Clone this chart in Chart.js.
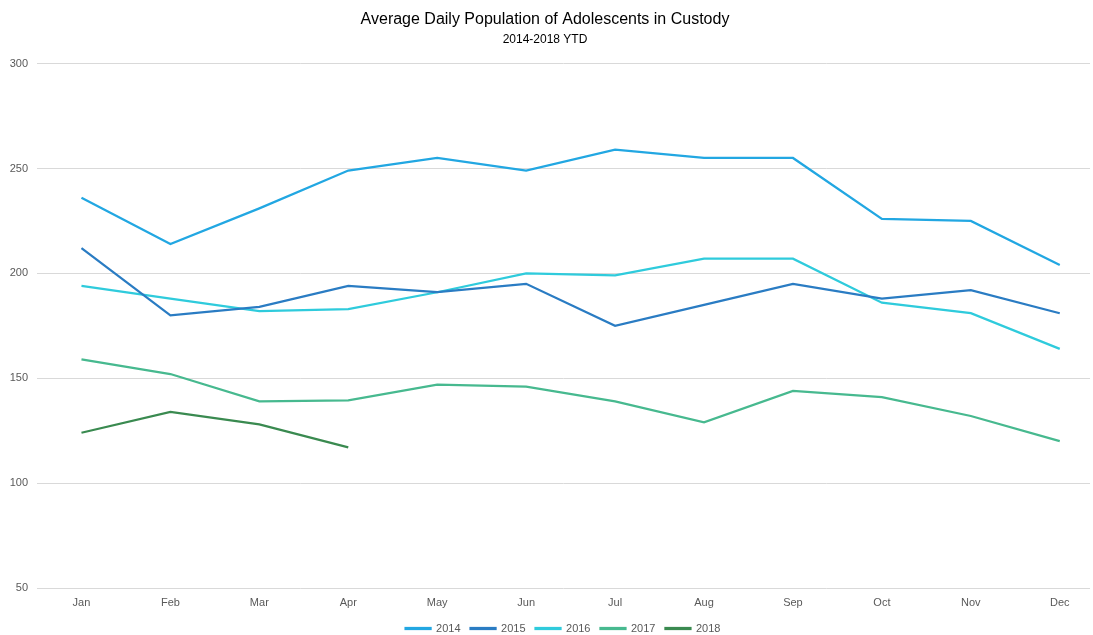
<!DOCTYPE html>
<html>
<head>
<meta charset="utf-8">
<script src="https://cdn.jsdelivr.net/npm/chart.js@4"></script>
<style>
  html, body { margin: 0; padding: 0; background: #fff; }
  #wrap { width: 1093px; height: 635px; }
</style>
</head>
<body>
<div id="wrap"><canvas id="adp-chart" width="1093" height="635"></canvas></div>
<script>
const months = ['Jan', 'Feb', 'Mar', 'Apr', 'May', 'Jun', 'Jul', 'Aug', 'Sep', 'Oct', 'Nov', 'Dec'];

const adp2014 = [236, 214, 231, 249, 255, 249, 259, 255, 255, 226, 225, 204];
const adp2015 = [212, 180, 184, 194, 191, 195, 175, 185, 195, 188, 192, 181];
const adp2016 = [194, 188, 182, 183, 191, 200, 199, 207, 207, 186, 181, 164];
const adp2017 = [159, 152, 139, 139.5, 147, 146, 139, 129, 144, 141, 132, 120];
const adp2018 = [124, 134, 128, 117];

const years = ['2014', '2015', '2016', '2017', '2018'];
const colors = ['#22a7e2', '#2a7cc3', '#2fcbdc', '#47b98f', '#3a8a50'];

// linear x so the first/last months sit where they do in the original
function toPoints(arr) {
    return arr.map((v, i) => ({ x: i, y: v }));
}

const seriesList = [adp2014, adp2015, adp2016, adp2017, adp2018];

// legend box is a bit tall by default, squeeze it so the plot keeps its height
// and nudge it right, it sits centred on the plot area in the original
const legendHeightFix = {
    id: 'legendHeightFix',
    afterInit(chart) {
        let legend = chart.legend;
        if (!legend) return;
        let origFit = legend.fit.bind(legend);
        legend.fit = function () {
            origFit();
            this.height = 22;
        };
    },
    afterLayout(chart) {
        if (!chart.legend) return;
        chart.legend.left += 18;
        chart.legend.right += 18;
    }
};

let ctx = document.getElementById('adp-chart');
new Chart(ctx, {
    type: 'line',
    data: {
        datasets: seriesList.map((s, i) => ({
            label: years[i],
            data: toPoints(s),
            borderColor: colors[i],
            backgroundColor: colors[i],
            borderWidth: 2.25,
            pointRadius: 0,
            tension: 0,
            fill: false
        }))
    },
    options: {
        responsive: false,
        animation: false,
        layout: { padding: { left: 0, right: 3, top: 4, bottom: 0 } },
        plugins: {
            title: {
                display: true,
                text: 'Average Daily Population of Adolescents in Custody',
                color: '#000',
                font: { family: 'Liberation Sans', size: 16, weight: 'normal' },
                padding: { top: 6, bottom: 0 }
            },
            subtitle: {
                display: true,
                text: '2014-2018 YTD',
                color: '#000',
                font: { family: 'Liberation Sans', size: 12, weight: 'normal' },
                padding: { top: 3, bottom: 17 }
            },
            legend: {
                position: 'bottom',
                labels: {
                    color: '#595959',
                    font: { family: 'Liberation Sans', size: 11 },
                    boxWidth: 25,
                    boxHeight: 1,
                    padding: 10
                }
            },
            tooltip: { enabled: false }
        },
        scales: {
            x: {
                type: 'linear',
                min: -0.5,
                max: 11.34,
                grid: { display: false, drawTicks: false },
                border: { display: false },
                afterBuildTicks: (scale) => {
                    scale.ticks = months.map((m, i) => ({ value: i }));
                },
                afterFit: (scale) => { scale.height = 25; },
                ticks: {
                    color: '#595959',
                    font: { family: 'Liberation Sans', size: 11 },
                    padding: 8,
                    autoSkip: false,
                    maxRotation: 0,
                    callback: (v) => months[v]
                }
            },
            y: {
                min: 50,
                max: 300,
                afterFit: (scale) => { scale.width = 37; },
                grid: { color: '#d9d9d9', lineWidth: 1, drawTicks: false },
                border: { display: false },
                ticks: {
                    stepSize: 50,
                    color: '#595959',
                    font: { family: 'Liberation Sans', size: 11 },
                    padding: 9
                }
            }
        }
    },
    plugins: [legendHeightFix]
});
</script>
</body>
</html>
